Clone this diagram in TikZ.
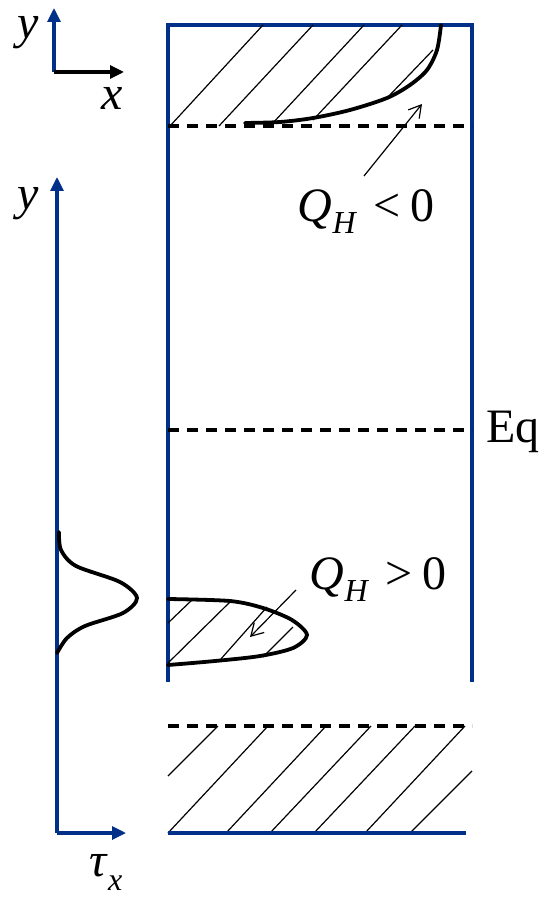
\documentclass[tikz,border=0pt]{standalone}
\usepackage{fontspec}
\setmainfont{Liberation Serif}[ItalicFont={Liberation Serif Italic}]
\usetikzlibrary{arrows.meta}
\definecolor{wallblue}{RGB}{0,48,135}

\begin{document}
\begin{tikzpicture}[
x=0.5pt,y=-0.5pt,
wall/.style={draw=wallblue,line width=2pt},
axis/.style={line width=1.6pt,-{Triangle[length=7pt,width=6.5pt]}},
hatch/.style={line width=0.6pt},
dashline/.style={line width=1.6pt,dash pattern=on 5.5pt off 4pt},
profile/.style={line width=1.9pt,line cap=round},
pointer/.style={line width=0.6pt,-{Straight Barb[length=6pt,width=7pt]}},
sym/.style={font=\fontsize{24}{28}\selectfont,inner sep=0pt}
]
\useasboundingbox (0,0) rectangle (543,898);

% small axes, top left
\coordinate (o1) at (54,72);
\draw[axis,wallblue] (o1) -- (54,8);
\draw[axis] (o1) -- (124,72);
\node[sym] (y1) at (28,33) {\textit{y}};
\node[sym] (x1) at (112,98) {\textit{x}};

% channel
\coordinate (tl) at (168,25);
\coordinate (tr) at (472,25);
\coordinate (bl) at (168,682);
\coordinate (br) at (472,682);
\draw[wall] (bl) -- (tl) -- (tr) -- (br);

\coordinate (n1) at (168,126); \coordinate (n2) at (472,126);
\coordinate (q1) at (168,430); \coordinate (q2) at (472,430);
\coordinate (s1) at (168,726); \coordinate (s2) at (472,726);
\draw[dashline] (n1) -- (n2);
\draw[dashline] (q1) -- (q2);
\draw[dashline] (s1) -- (s2);
\node[sym,anchor=west] (eq) at (486,432) {Eq};

% top layer
\foreach \a/\b/\c/\d in {170/126/263/25, 219/126/313/25, 272/124/364/25,
  313/120/402/25, 387/98/433/50}
  \draw[hatch] (\a,\b) -- (\c,\d);
\draw[profile] plot[smooth] coordinates {(441,25) (437,50) (427,70) (410,85)
  (387,98) (350,110) (313,118) (280,122) (245,123)};
\coordinate (pn) at (364,176);
\coordinate (pt) at (422,104);
\draw[pointer] (pn) -- (pt);
\node[sym] (qneg) at (366,212) {\textit{Q}\raisebox{-6pt}{\fontsize{16}{16}\selectfont\textit{H}}\hspace{8pt}<\hspace{5pt}0};

% bottom layer
\foreach \a/\b/\c/\d in {168/623/193/599, 168/663/232/600, 220/660/267/607,
  263/657/293/627}
  \draw[hatch] (\a,\b) -- (\c,\d);
\draw[profile] plot[smooth] coordinates {(168,599) (230,601) (263,608)
  (292,620) (307,635) (293,648) (260,656) (215,661) (168,665)};
\coordinate (ps) at (296,590);
\coordinate (pe) at (250,637);
\draw[pointer] (ps) -- (pe);
\node[sym] (qpos) at (378,580) {\textit{Q}\raisebox{-6pt}{\fontsize{16}{16}\selectfont\textit{H}}\hspace{8pt}>\hspace{5pt}0};

% solid ground
\foreach \a/\b/\c/\d in {168/776/218/726, 168/833/268/726, 226/833/326/726,
  270/833/371/726, 314/833/415/726, 365/833/465/726, 410/833/472/771}
  \draw[hatch] (\a,\b) -- (\c,\d);
\coordinate (g1) at (168,833);
\coordinate (g2) at (466,833);
\draw[wall] (g1) -- (g2);

% stress axis
\coordinate (o2) at (57,833);
\draw[axis,wallblue] (o2) -- (57,177);
\draw[axis,wallblue] (o2) -- (126,833);
\node[sym] (y2) at (28,204) {\textit{y}};
\node[sym] (tau) at (106,872) {\textit{τ}\raisebox{-7pt}{\fontsize{16}{16}\selectfont\textit{x}}};
\draw[profile] plot[smooth] coordinates {(59,532) (61,550) (76,566) (120,582)
  (137,598) (123,613) (85,626) (67,638) (57,653)};
\end{tikzpicture}
\end{document}
